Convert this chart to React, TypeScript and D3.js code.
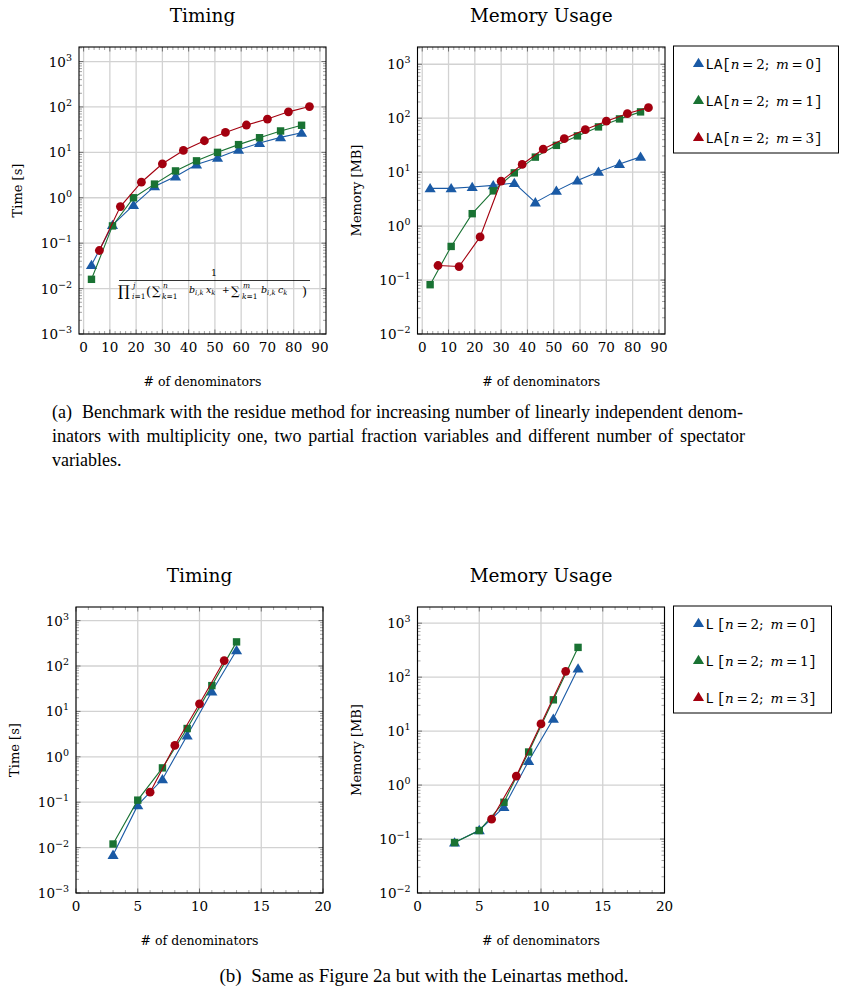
import React, { useLayoutEffect, useRef, useState } from 'react';
import * as d3 from 'd3';

// residue method (LA), x = number of denominators
const laX = [3, 11, 19, 27, 35, 43, 51, 59, 67, 75, 83];
const laXm3 = [6, 14, 22, 30, 38, 46, 54, 62, 70, 78, 86];
const laTimeM0 = [0.033, 0.25, 0.69, 1.78, 2.95, 5.4, 7.6, 11.4, 16, 21.4, 27];
const laTimeM1 = [0.016, 0.24, 1.0, 2.0, 3.9, 6.5, 10, 14.8, 21, 29.6, 39.5];
const laTimeM3 = [0.069, 0.64, 2.2, 5.6, 11, 18, 27.5, 40, 54, 78, 102];
const laMemM0 = [5.0, 5.0, 5.3, 5.7, 6.3, 2.75, 4.5, 7.0, 10.2, 14.2, 19.2];
const laMemM1 = [0.082, 0.42, 1.7, 4.5, 9.7, 19, 31.4, 47, 69, 97, 131];
const laMemM3 = [0.186, 0.178, 0.63, 6.8, 13.9, 26.8, 41.7, 61.5, 88, 122, 157];

// Leinartas method (L)
const lX = [3, 5, 7, 9, 11, 13];
const lXm3 = [6, 8, 10, 12];
const lTimeM0 = [0.0069, 0.086, 0.32, 2.95, 27.5, 222];
const lTimeM1 = [0.012, 0.111, 0.57, 4.2, 37, 340];
const lTimeM3 = [0.166, 1.78, 14.7, 132];
const lMemM0 = [0.086, 0.146, 0.39, 2.8, 17, 145];
const lMemM1 = [0.086, 0.144, 0.48, 4.1, 38, 356];
const lMemM3 = [0.233, 1.47, 13.6, 128];

const laLegend = ['LA[', 'LA[', 'LA['];
const lLegend = ['L\u2009[', 'L\u2009[', 'L\u2009['];
const mValues = ['0', '1', '3'];

const xTicksTop = [0, 10, 20, 30, 40, 50, 60, 70, 80, 90];
const xTicksBottom = [0, 5, 10, 15, 20];

const captionA = [
  '(a)\u00a0 Benchmark with the residue method for increasing number of linearly independent denom-',
  'inators with multiplicity one, two partial fraction variables and different number of spectator',
  'variables.',
];
const captionB = '(b)\u00a0 Same as Figure 2a but with the Leinartas method.';

const BLUE = '#1a5aa5';
const GREEN = '#197233';
const RED = '#a3000f';
const GRID = '#d2d2d2';
const SERIF = 'Liberation Serif';
const CHART = 'DejaVu Serif';
const MONO = 'Liberation Mono';

type Series = { xs: number[]; ys: number[]; color: string; mark: 'tri' | 'sq' | 'dot' };

function Marker({ x, y, color, mark }: { x: number; y: number; color: string; mark: string }) {
  if (mark === 'tri') {
    const s = 5.3;
    return <path d={`M${x},${y - s}L${x + s * 1.05},${y + s * 0.75}L${x - s * 1.05},${y + s * 0.75}Z`} fill={color} />;
  }
  if (mark === 'sq') {
    return <rect x={x - 3.7} y={y - 3.7} width={7.4} height={7.4} fill={color} />;
  }
  return <circle cx={x} cy={y} r={4.4} fill={color} />;
}

function Panel(props: {
  left: number; top: number; w: number; h: number;
  xDomain: [number, number]; yMinExp: number; yMaxExp: number;
  xTicks: number[]; xMinorStep: number;
  series: Series[]; title: string; ylabel: string;
}) {
  const { left, top, w, h, xDomain, yMinExp, yMaxExp, xTicks, xMinorStep, series, title, ylabel } = props;
  const x = d3.scaleLinear().domain(xDomain).range([left, left + w]);
  const y = d3.scaleLog().domain([Math.pow(10, yMinExp), Math.pow(10, yMaxExp)]).range([top + h, top]);
  const bottom = top + h;
  const right = left + w;
  const decades = d3.range(yMinExp, Math.floor(yMaxExp) + 1);
  const minorY: number[] = [];
  decades.forEach((e) => {
    for (let k = 2; k <= 9; k++) {
      const v = k * Math.pow(10, e);
      if (v < Math.pow(10, yMaxExp)) minorY.push(v);
    }
  });
  const minorX = d3.range(xTicks[0], xTicks[xTicks.length - 1] + 0.001, xMinorStep).filter((v) => !xTicks.includes(v));
  const line = d3.line<[number, number]>().x((d) => x(d[0])).y((d) => y(d[1]));
  const cx = left + w / 2;

  return (
    <g>
      <text x={cx} y={top - 25} textAnchor="middle" fontSize={18.5} fontFamily={CHART}>{title}</text>
      <text transform={`translate(${left - 57},${top + h / 2}) rotate(-90)`} textAnchor="middle" fontSize={13} fontFamily={CHART}>{ylabel}</text>
      <text x={cx} y={bottom + 52} textAnchor="middle" fontSize={12.5} fontFamily={CHART}># of denominators</text>
      {/* grid */}
      {xTicks.map((t) => (
        <line key={'gx' + t} x1={x(t)} x2={x(t)} y1={top} y2={bottom} stroke={GRID} strokeWidth={1.3} />
      ))}
      {decades.map((e) => (
        <line key={'gy' + e} x1={left} x2={right} y1={y(Math.pow(10, e))} y2={y(Math.pow(10, e))} stroke={GRID} strokeWidth={1.3} />
      ))}
      {/* ticks */}
      {xTicks.map((t) => (
        <g key={'tx' + t}>
          <line x1={x(t)} x2={x(t)} y1={bottom} y2={bottom - 4.5} stroke="#555" strokeWidth={0.8} />
          <line x1={x(t)} x2={x(t)} y1={top} y2={top + 4.5} stroke="#555" strokeWidth={0.8} />
          <text x={x(t)} y={bottom + 18} textAnchor="middle" fontSize={13.5} fontFamily={CHART}>{t}</text>
        </g>
      ))}
      {minorX.map((t) => (
        <g key={'mx' + t}>
          <line x1={x(t)} x2={x(t)} y1={bottom} y2={bottom - 3} stroke="#666" strokeWidth={0.6} />
          <line x1={x(t)} x2={x(t)} y1={top} y2={top + 3} stroke="#666" strokeWidth={0.6} />
        </g>
      ))}
      {decades.map((e) => (
        <g key={'ty' + e}>
          <line x1={left} x2={left + 4.5} y1={y(Math.pow(10, e))} y2={y(Math.pow(10, e))} stroke="#555" strokeWidth={0.8} />
          <line x1={right} x2={right - 4.5} y1={y(Math.pow(10, e))} y2={y(Math.pow(10, e))} stroke="#555" strokeWidth={0.8} />
          <text x={left - 7} y={y(Math.pow(10, e)) + 5} textAnchor="end" fontSize={13.5} fontFamily={CHART}>
            <tspan>10</tspan>
            <tspan dy={-6} fontSize={9.5}>{e < 0 ? '\u2212' + -e : String(e)}</tspan>
          </text>
        </g>
      ))}
      {minorY.map((v, i) => (
        <g key={'my' + i}>
          <line x1={left} x2={left + 3} y1={y(v)} y2={y(v)} stroke="#666" strokeWidth={0.6} />
          <line x1={right} x2={right - 3} y1={y(v)} y2={y(v)} stroke="#666" strokeWidth={0.6} />
        </g>
      ))}
      {/* series */}
      {series.map((s, si) => {
        const pts = s.xs.map((v, i) => [v, s.ys[i]] as [number, number]);
        return (
          <g key={'s' + si}>
            <path d={line(pts) || ''} fill="none" stroke={s.color} strokeWidth={1.1} />
            {pts.map((p, i) => (
              <Marker key={i} x={x(p[0])} y={y(p[1])} color={s.color} mark={s.mark} />
            ))}
          </g>
        );
      })}
      <rect x={left} y={top} width={w} height={h} fill="none" stroke="#000" strokeWidth={1.1} />
    </g>
  );
}

function Legend({ left, top, w, h, names }: { left: number; top: number; w: number; h: number; names: string[] }) {
  const colors = [BLUE, GREEN, RED];
  return (
    <g>
      <rect x={left} y={top} width={w} height={h} fill="#fff" stroke="#000" strokeWidth={1} />
      {names.map((n, i) => {
        const cy = top + 18 + i * 37;
        return (
          <g key={i}>
            <Marker x={left + 25} y={cy - 1} color={colors[i]} mark="tri" />
            <text x={left + 32} y={cy + 5} fontSize={13.5} fontFamily={CHART}>
              <tspan fontFamily={MONO} fontSize={14}>{n}</tspan>
              <tspan fontStyle="italic">n</tspan>
              <tspan>{'\u2009=\u20092;\u2002'}</tspan>
              <tspan fontStyle="italic">m</tspan>
              <tspan>{'\u2009=\u2009' + mValues[i]}</tspan>
              <tspan fontFamily={MONO} fontSize={14}>]</tspan>
            </text>
          </g>
        );
      })}
    </g>
  );
}

function Sub({ x, y, main, sub, size }: { x: number; y: number; main: string; sub: string; size: number }) {
  return (
    <text x={x} y={y} fontSize={size} fontFamily={CHART} fontStyle="italic">
      {main}<tspan fontSize={size * 0.72} dy={2.2}>{sub}</tspan>
    </text>
  );
}

function Formula() {
  return (
    <g fontFamily={CHART}>
      <text x={214} y={276} textAnchor="middle" fontSize={9.5}>1</text>
      <line x1={119} x2={310} y1={280.5} y2={280.5} stroke="#000" strokeWidth={0.8} />
      <text x={118} y={296} fontSize={15}>∏</text>
      <text x={133} y={288} fontSize={7.5} fontStyle="italic">j</text>
      <text x={132} y={299} fontSize={7.5}><tspan fontStyle="italic">i</tspan>=1</text>
      <text x={146} y={296} fontSize={13}>(</text>
      <text x={152} y={295} fontSize={12}>∑</text>
      <text x={163} y={288} fontSize={7.5} fontStyle="italic">n</text>
      <text x={162} y={299} fontSize={7.5}><tspan fontStyle="italic">k</tspan>=1</text>
      <Sub x={189} y={293} main="b" sub="i,k" size={9.5} />
      <Sub x={206} y={293} main="x" sub="k" size={9.5} />
      <text x={222} y={293} fontSize={9}>+</text>
      <text x={231} y={295} fontSize={12}>∑</text>
      <text x={243} y={288} fontSize={7.5} fontStyle="italic">m</text>
      <text x={242} y={299} fontSize={7.5}><tspan fontStyle="italic">k</tspan>=1</text>
      <Sub x={261} y={293} main="b" sub="i,k" size={9.5} />
      <Sub x={278} y={293} main="c" sub="k" size={9.5} />
      <text x={302} y={296} fontSize={13}>)</text>
    </g>
  );
}

function JustifiedLine({ x, y, width, text, size }: { x: number; y: number; width: number; text: string; size: number }) {
  const ref = useRef<SVGTextElement>(null);
  const [ws, setWs] = useState(0);
  useLayoutEffect(() => {
    const el = ref.current;
    if (!el) return;
    const natural = el.getComputedTextLength();
    const gaps = (text.match(/[ \u00a0]/g) || []).length;
    if (gaps > 0) setWs((width - natural) / gaps);
  }, [text, width]);
  return (
    <text ref={ref} x={x} y={y} fontSize={size} fontFamily={SERIF} style={{ wordSpacing: ws + 'px' }}>{text}</text>
  );
}

export default function App() {
  return (
    <svg width={847} height={991} style={{ position: 'absolute', left: 0, top: 0, background: '#fff' }}>
      <Panel left={79} top={47} w={247} h={287} xDomain={[-1.75, 92.3]} yMinExp={-3} yMaxExp={3.32}
        xTicks={xTicksTop} xMinorStep={2} title="Timing" ylabel="Time [s]"
        series={[
          { xs: laX, ys: laTimeM0, color: BLUE, mark: 'tri' },
          { xs: laX, ys: laTimeM1, color: GREEN, mark: 'sq' },
          { xs: laXm3, ys: laTimeM3, color: RED, mark: 'dot' },
        ]} />
      <Formula />
      <Panel left={417.5} top={47} w={247.5} h={287} xDomain={[-1.8, 92.3]} yMinExp={-2} yMaxExp={3.32}
        xTicks={xTicksTop} xMinorStep={2} title="Memory Usage" ylabel="Memory [MB]"
        series={[
          { xs: laX, ys: laMemM0, color: BLUE, mark: 'tri' },
          { xs: laX, ys: laMemM1, color: GREEN, mark: 'sq' },
          { xs: laXm3, ys: laMemM3, color: RED, mark: 'dot' },
        ]} />
      <Legend left={673.5} top={46} w={165} h={107} names={laLegend} />

      <JustifiedLine x={52} y={418} width={691} text={captionA[0]} size={18} />
      <JustifiedLine x={52} y={442} width={693} text={captionA[1]} size={18} />
      <text x={52} y={466} fontSize={18} fontFamily={SERIF}>{captionA[2]}</text>

      <Panel left={76} top={607} w={247} h={286} xDomain={[0, 20]} yMinExp={-3} yMaxExp={3.3}
        xTicks={xTicksBottom} xMinorStep={1} title="Timing" ylabel="Time [s]"
        series={[
          { xs: lX, ys: lTimeM0, color: BLUE, mark: 'tri' },
          { xs: lX, ys: lTimeM1, color: GREEN, mark: 'sq' },
          { xs: lXm3, ys: lTimeM3, color: RED, mark: 'dot' },
        ]} />
      <Panel left={417.5} top={607} w={247} h={286} xDomain={[0, 20]} yMinExp={-2} yMaxExp={3.3}
        xTicks={xTicksBottom} xMinorStep={1} title="Memory Usage" ylabel="Memory [MB]"
        series={[
          { xs: lX, ys: lMemM0, color: BLUE, mark: 'tri' },
          { xs: lX, ys: lMemM1, color: GREEN, mark: 'sq' },
          { xs: lXm3, ys: lMemM3, color: RED, mark: 'dot' },
        ]} />
      <Legend left={673.5} top={606} w={158} h={107} names={lLegend} />

      <text x={424} y={982} textAnchor="middle" fontSize={19} fontFamily={SERIF}>{captionB}</text>
    </svg>
  );
}
